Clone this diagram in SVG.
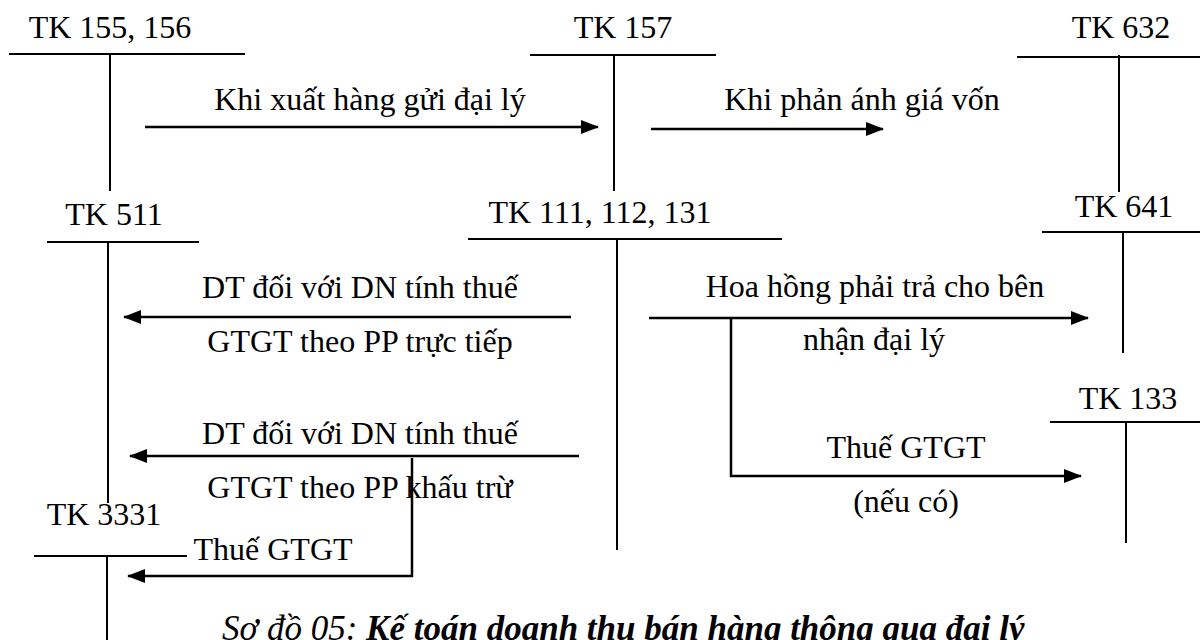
<svg xmlns="http://www.w3.org/2000/svg" width="1200" height="640" viewBox="0 0 1200 640">
<defs>
<marker id="arr" markerWidth="18" markerHeight="14" refX="17" refY="7" orient="auto" markerUnits="userSpaceOnUse">
<path d="M0,0 L18,7 L0,14 Z" fill="#000"/>
</marker>
<style>
.t{font-family:"Liberation Serif","Times New Roman",serif;font-size:32px;fill:#000;text-anchor:middle}
.ln{stroke:#000;stroke-width:2;fill:none}
.c{stroke:#000;stroke-width:2.5;fill:none}
.cap{font-family:"Liberation Serif","Times New Roman",serif;font-size:35px;font-style:italic;fill:#000}
</style>
</defs>
<rect width="1200" height="640" fill="#fff"/>
<g id="tk155">
<text class="t" x="110" y="38">TK 155, 156</text>
<line class="ln" x1="9" y1="54" x2="245" y2="54"/>
<line class="ln" x1="110" y1="54" x2="110" y2="191"/>
</g>
<g id="tk157">
<text class="t" x="623" y="38">TK 157</text>
<line class="ln" x1="530" y1="55" x2="716" y2="55"/>
<line class="ln" x1="614" y1="55" x2="614" y2="191"/>
</g>
<g id="tk632">
<text class="t" x="1121" y="38">TK 632</text>
<line class="ln" x1="1017" y1="57" x2="1200" y2="57"/>
<line class="ln" x1="1119" y1="55" x2="1119" y2="192"/>
</g>
<g id="tk511">
<text class="t" x="114" y="225">TK 511</text>
<line class="ln" x1="47" y1="242" x2="199" y2="242"/>
<line class="ln" x1="108" y1="242" x2="108" y2="503"/>
</g>
<g id="tk111">
<text class="t" x="600" y="223">TK 111, 112, 131</text>
<line class="ln" x1="468" y1="239" x2="782" y2="239"/>
<line class="ln" x1="617" y1="239" x2="617" y2="550"/>
</g>
<g id="tk641">
<text class="t" x="1124" y="217">TK 641</text>
<line class="ln" x1="1042" y1="232" x2="1200" y2="232"/>
<line class="ln" x1="1123" y1="232" x2="1123" y2="353"/>
</g>
<g id="tk133">
<text class="t" x="1128" y="409">TK 133</text>
<line class="ln" x1="1050" y1="422" x2="1200" y2="422"/>
<line class="ln" x1="1126" y1="422" x2="1126" y2="543"/>
</g>
<g id="tk3331">
<text class="t" x="104" y="525">TK 3331</text>
<line class="ln" x1="34" y1="556" x2="187" y2="556"/>
<line class="ln" x1="107" y1="556" x2="107" y2="640"/>
</g>
<g id="connectors">
<line class="c" x1="145" y1="127" x2="598" y2="127" marker-end="url(#arr)"/>
<line class="c" x1="651" y1="129" x2="883" y2="129" marker-end="url(#arr)"/>
<line class="c" x1="571" y1="317" x2="124" y2="317" marker-end="url(#arr)"/>
<line class="c" x1="649" y1="318" x2="1088" y2="318" marker-end="url(#arr)"/>
<polyline class="c" points="731,318 731,476 1081,476" marker-end="url(#arr)"/>
<line class="c" x1="579" y1="456" x2="130" y2="456" marker-end="url(#arr)"/>
<polyline class="c" points="412,458 412,576 128,576" marker-end="url(#arr)"/>
</g>
<g id="labels">
<text class="t" x="370" y="110">Khi xuất hàng gửi đại lý</text>
<text class="t" x="862" y="110">Khi phản ánh giá vốn</text>
<text class="t" x="360" y="298">DT đối với DN tính thuế</text>
<text class="t" x="360" y="352">GTGT theo PP trực tiếp</text>
<text class="t" x="875" y="297">Hoa hồng phải trả cho bên</text>
<text class="t" x="874" y="350">nhận đại lý</text>
<text class="t" x="906" y="458">Thuế GTGT</text>
<text class="t" x="906" y="512">(nếu có)</text>
<text class="t" x="360" y="444">DT đối với DN tính thuế</text>
<text class="t" x="360" y="498">GTGT theo PP khấu trừ</text>
<text class="t" x="273" y="560">Thuế GTGT</text>
</g>
<text class="cap" x="222" y="640">Sơ đồ 05: <tspan font-weight="bold">Kế toán doanh thu bán hàng thông qua đại lý</tspan></text>
</svg>
